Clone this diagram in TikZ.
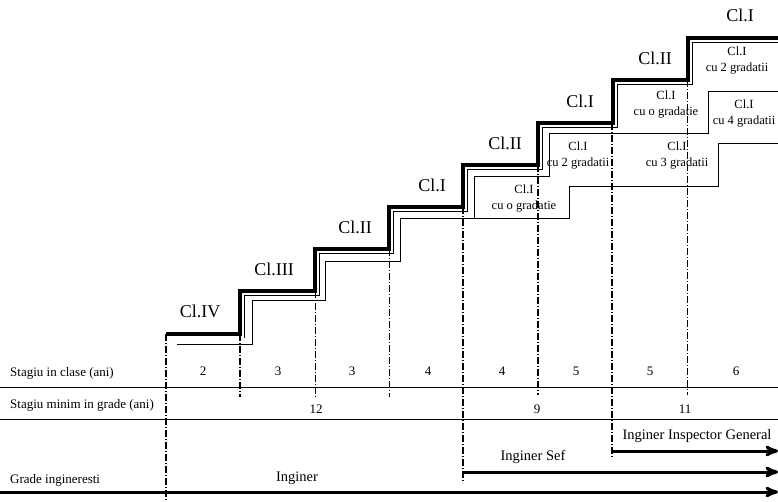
\documentclass[tikz,border=0pt]{standalone}
\usepackage{fontspec}
\setmainfont{Liberation Serif}
\usetikzlibrary{arrows}

\begin{document}
\begin{tikzpicture}[>=stealth',x=1pt,y=-1pt,inner sep=0pt,
	clasa/.style={font=\fontsize{18}{18}\selectfont},
	gradatie/.style={font=\fontsize{12.5}{16}\selectfont,align=center},
	rand/.style={font=\fontsize{13}{13}\selectfont,anchor=west},
	ani/.style={font=\fontsize{13}{13}\selectfont},
	grad/.style={font=\fontsize{14.5}{15}\selectfont},
	linie/.style={line width=0.7pt},
	treapta/.style={line width=4pt,line join=miter},
	ghid/.style={dash pattern=on 7pt off 2pt on 1pt off 2pt,line width=0.7pt},
	ghidgros/.style={ghid,line width=2pt},
	sageata/.style={->,line width=3pt}]

\useasboundingbox (0,0) rectangle (778,502);

% scara claselor
\draw[treapta] (166,334) -- (240,334) -- (240,291) -- (315,291) -- (315,249) -- (389,249)
	-- (389,207) -- (463,207) -- (463,165) -- (538,165) -- (538,123) -- (613,123)
	-- (613,80) -- (688,80) -- (688,38) -- (778,38);
\draw[linie] (244,338) -- (244,295) -- (319,295) -- (319,253) -- (393,253) -- (393,211)
	-- (467,211) -- (467,169) -- (542,169) -- (542,127) -- (617,127) -- (617,84)
	-- (692,84) -- (692,42) -- (778,42);
\draw[linie] (177,344) -- (252,344) -- (252,300) -- (325,300) -- (325,261) -- (400,261)
	-- (400,218) -- (474,218) -- (474,176) -- (549,176) -- (549,133) -- (708,133)
	-- (708,91) -- (778,91);
\draw[linie] (474,218) -- (569,218) -- (569,186) -- (718,186) -- (718,143) -- (778,143);

% linii de separare
\draw[ghidgros] (166,334) -- (166,502);
\draw[ghidgros] (240,334) -- (240,397);
\draw[ghid]     (315,291) -- (315,397);
\draw[ghid]     (389,249) -- (389,397);
\draw[ghidgros] (463,207) -- (463,483);
\draw[ghidgros] (538,165) -- (538,395);
\draw[ghid,line width=1.5pt] (612,123) -- (612,458);
\draw[ghid]     (687,80) -- (687,395);

\draw[linie] (0,387) -- (778,387);
\draw[linie] (0,419) -- (778,419);

\node[clasa] (c4)  at (200,311) {Cl.IV};
\node[clasa] (c3)  at (274,269) {Cl.III};
\node[clasa] (c2a) at (355,227) {Cl.II};
\node[clasa] (c1a) at (432,185) {Cl.I};
\node[clasa] (c2b) at (505,143) {Cl.II};
\node[clasa] (c1b) at (580,101) {Cl.I};
\node[clasa] (c2c) at (655,58)  {Cl.II};
\node[clasa] (c1c) at (740,15)  {Cl.I};

\node[gradatie] (g1) at (524,199) {Cl.I\\cu o gradatie};
\node[gradatie] (g2) at (578,156) {Cl.I\\cu 2 gradatii};
\node[gradatie] (g3) at (677,156) {Cl.I\\cu 3 gradatii};
\node[gradatie] (g4) at (666,105) {Cl.I\\cu o gradatie};
\node[gradatie] (g5) at (737,61)  {Cl.I\\cu 2 gradatii};
\node[gradatie] (g6) at (744,114) {Cl.I\\cu 4 gradatii};

\node[rand] (stagiu)  at (10,373) {Stagiu in clase (ani)};
\node[rand] (minim)   at (10,405) {Stagiu minim in grade (ani)};
\node[rand] (grade)   at (10,480) {Grade ingineresti};

\node[ani] (a1) at (203,371) {2};
\node[ani] (a2) at (278,371) {3};
\node[ani] (a3) at (352,371) {3};
\node[ani] (a4) at (428,371) {4};
\node[ani] (a5) at (502,371) {4};
\node[ani] (a6) at (576,371) {5};
\node[ani] (a7) at (650,371) {5};
\node[ani] (a8) at (736,371) {6};

\node[ani] (m1) at (316,409) {12};
\node[ani] (m2) at (537,409) {9};
\node[ani] (m3) at (685,409) {11};

\coordinate (ing0) at (0,492);     \coordinate (ing1) at (778,492);
\coordinate (sef0) at (463,472);   \coordinate (sef1) at (778,472);
\coordinate (insp0) at (612,451);  \coordinate (insp1) at (778,451);

\draw[sageata] (ing0) -- (ing1);
\draw[sageata] (sef0) -- (sef1);
\draw[sageata] (insp0) -- (insp1);

\node[grad] (inginer) at (297,478) {Inginer};
\node[grad] (sef)     at (533,457) {Inginer Sef};
\node[grad] (insp)    at (697,436) {Inginer Inspector General};

\end{tikzpicture}
\end{document}
